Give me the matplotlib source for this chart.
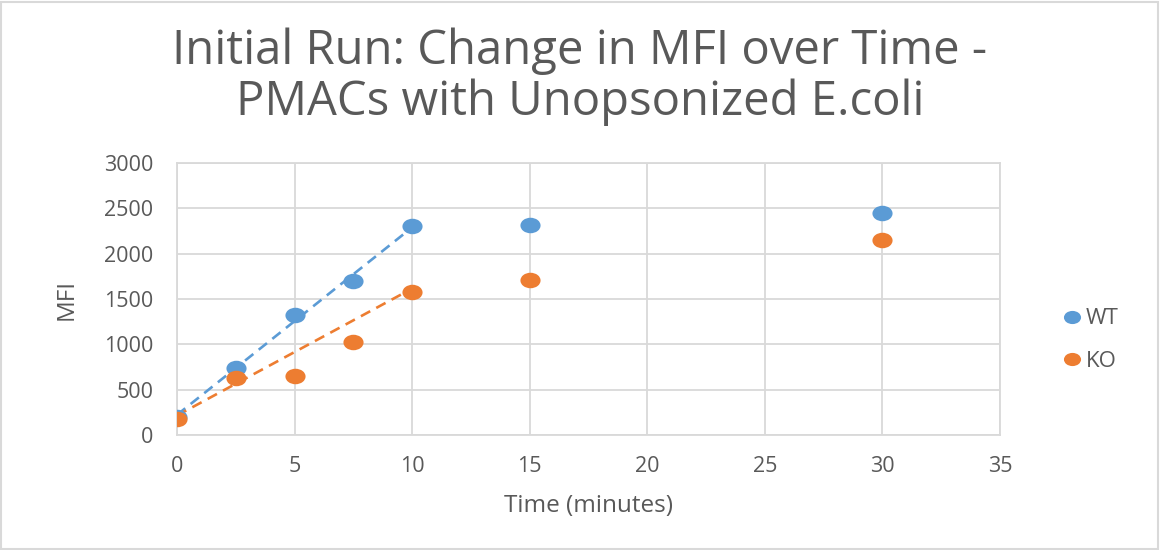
import numpy as np
import matplotlib
matplotlib.use("Agg")
import matplotlib.pyplot as plt
from matplotlib.path import Path
from matplotlib.transforms import Affine2D
from matplotlib.patches import Rectangle

plt.rcParams['font.family'] = ['Open Sans', 'DejaVu Sans']

# time points (minutes) and mean fluorescence intensity
time_min = [0, 2.5, 5, 7.5, 10, 15, 30]
wt_mfi = [200, 742, 1320, 1695, 2305, 2320, 2445]
ko_mfi = [178, 632, 648, 1022, 1575, 1708, 2150]

# dashed linear trends over the first 10 minutes
trend_x = [0, 10]
wt_trend = [222, 2290]
ko_trend = [215, 1615]

blue = '#5B9BD5'
orange = '#ED7D31'
text_grey = '#595959'
grid_grey = '#D9D9D9'

# slightly wide oval marker
oval = Path.unit_circle().transformed(Affine2D().scale(1.3, 1.0))

fig = plt.figure(figsize=(11.6, 5.5), dpi=100)
ax = fig.add_axes([177/1160, 1 - 435/550, (1000-177)/1160, (435-163)/550])

ax.plot(trend_x, wt_trend, color=blue, lw=1.9, ls=(0, (4, 2.6)), zorder=2)
ax.plot(trend_x, ko_trend, color=orange, lw=1.9, ls=(0, (4, 2.6)), zorder=2)
ax.plot(time_min, wt_mfi, ls='none', marker=oval, ms=14.5, color=blue,
        mec='none', label='WT', zorder=3)
ax.plot(time_min, ko_mfi, ls='none', marker=oval, ms=14.5, color=orange,
        mec='none', label='KO', zorder=3)

ax.set_xlim(0, 35)
ax.set_ylim(0, 3000)
ax.set_xticks(range(0, 36, 5))
ax.set_yticks(range(0, 3001, 500))
ax.grid(True, color=grid_grey, lw=1.3)
ax.set_axisbelow(True)
for s in ax.spines.values():
    s.set_color(grid_grey)
    s.set_linewidth(1.3)
ax.tick_params(length=0, colors=text_grey, labelsize=15.5)
ax.tick_params(axis='x', pad=15)
ax.tick_params(axis='y', pad=17)

ax.set_xlabel('Time (minutes)', fontsize=17.5, color=text_grey, labelpad=12)
ax.set_ylabel('MFI', fontsize=17.5, color=text_grey, labelpad=18)

fig.text(0.5, 1 - 77/550, 'Initial Run: Change in MFI over Time -\nPMACs with Unopsonized E.coli',
         ha='center', va='center', fontsize=34, color=text_grey, linespacing=1.1)

fig.legend(loc='center left', bbox_to_anchor=(1045/1160, 1 - 340/550),
           frameon=False, fontsize=16, labelcolor=text_grey,
           handlelength=0.6, handletextpad=0.35, labelspacing=0.95, markerscale=0.85)

fig.patches.append(Rectangle((0.001, 0.002), 0.997, 0.995, transform=fig.transFigure,
                             fill=False, edgecolor=grid_grey, lw=1.5))

fig.savefig('out.png', dpi=100, facecolor='white')
